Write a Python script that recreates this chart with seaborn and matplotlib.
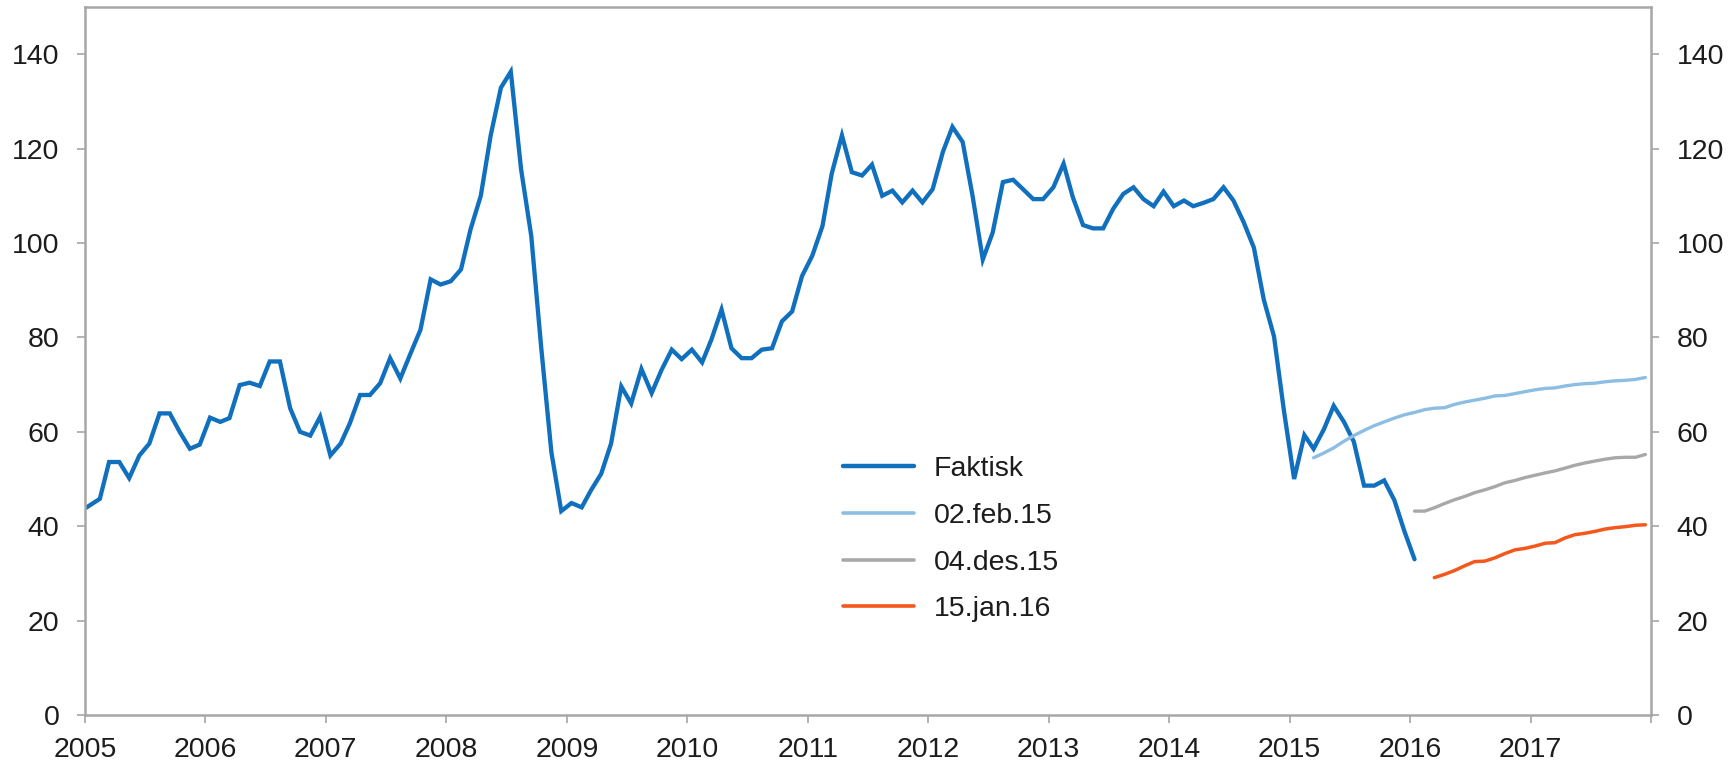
import matplotlib
matplotlib.use("Agg")
import matplotlib.pyplot as plt
import numpy as np
import pandas as pd
import seaborn as sns

# ---------------- data (monthly, USD per barrel) ----------------
faktisk_start = "2004-12"
faktisk = [43.0,
           44.4, 45.8, 53.6, 53.6, 50.2, 55.0, 57.5, 63.9, 63.9, 60.0, 56.4, 57.3,          # 2005
           63.0, 62.1, 62.9, 69.9, 70.4, 69.7, 74.9, 74.9, 65.0, 60.0, 59.2, 63.2,          # 2006
           55.0, 57.5, 61.8, 67.8, 67.8, 70.3, 75.6, 71.3, 76.6, 81.6, 92.3, 91.2,          # 2007
           91.9, 94.4, 102.9, 110.0, 122.8, 132.9, 136.3, 115.7, 101.5, 78.0, 55.7, 43.2,   # 2008
           44.9, 44.0, 47.6, 51.1, 57.5, 69.6, 66.0, 73.3, 68.2, 73.1, 77.4, 75.4,          # 2009
           77.4, 74.7, 79.5, 85.9, 77.7, 75.6, 75.6, 77.4, 77.7, 83.4, 85.5, 93.0,          # 2010
           97.3, 103.6, 114.7, 122.8, 115.0, 114.3, 116.6, 110.0, 111.1, 108.6, 111.1, 108.6,  # 2011
           111.4, 119.3, 124.6, 121.4, 110.0, 96.5, 102.2, 112.9, 113.4, 111.4, 109.3, 109.3,  # 2012
           111.8, 116.8, 109.7, 103.8, 103.1, 103.1, 107.2, 110.4, 111.8, 109.3, 107.8, 110.9,  # 2013
           107.8, 109.0, 107.8, 108.5, 109.3, 111.8, 109.0, 104.4, 99.0, 88.0, 80.2, 64.5,  # 2014
           50.0, 59.3, 56.4, 60.5, 65.5, 62.1, 57.9, 48.6, 48.6, 49.7, 45.5, 39.0,          # 2015
           33.0]                                                                            # 2016

feb15_start = "2015-03"
feb15 = [54.5, 55.5, 56.6, 58.0, 59.2, 60.3, 61.3, 62.1, 62.9, 63.6,
         64.1, 64.7, 65.0, 65.1, 65.8, 66.3, 66.7, 67.1, 67.6, 67.7,
         68.1, 68.5, 68.9, 69.2, 69.3, 69.7, 70.0, 70.2, 70.3, 70.6,
         70.8, 70.9, 71.1, 71.5]

des15_start = "2016-01"
des15 = [43.2, 43.2, 43.9, 44.8, 45.6, 46.3, 47.1, 47.7, 48.4, 49.2,
         49.7, 50.3, 50.8, 51.3, 51.7, 52.3, 52.9, 53.4, 53.8, 54.2,
         54.5, 54.6, 54.6, 55.2]

jan16_start = "2016-03"
jan16 = [29.1, 29.8, 30.6, 31.6, 32.5, 32.6, 33.3, 34.2, 35.0, 35.3,
         35.8, 36.4, 36.5, 37.5, 38.2, 38.5, 38.9, 39.4, 39.7, 39.9,
         40.2, 40.3]

series_labels = ["Faktisk", "02.feb.15", "04.des.15", "15.jan.16"]
year_ticks = list(range(2005, 2019))
year_labels = [str(y) for y in range(2005, 2018)] + [""]
y_ticks = [0, 20, 40, 60, 80, 100, 120, 140]


def monthly(start, values):
    dates = pd.period_range(start, periods=len(values), freq="M").to_timestamp() + pd.Timedelta(days=14)
    return pd.DataFrame({"date": dates, "value": values})


# ---------------- style ----------------
sns.set_theme(style="white")
plt.rcParams["font.family"] = ["Liberation Sans", "DejaVu Sans"]

W, H = 1736, 772
fig = plt.figure(figsize=(W / 100, H / 100), dpi=100)
left, right, top, bottom = 85, 1651, 7, 715
ax = fig.add_axes([left / W, 1 - bottom / H, (right - left) / W, (bottom - top) / H])

colors = ["#1170BE", "#8CBDE3", "#A8A8A8", "#F4581C"]
widths = [3.1, 2.4, 2.4, 2.5]
datasets = [monthly(faktisk_start, faktisk), monthly(feb15_start, feb15),
            monthly(des15_start, des15), monthly(jan16_start, jan16)]

for df, lab, c, lw in zip(datasets, series_labels, colors, widths):
    sns.lineplot(data=df, x="date", y="value", ax=ax, color=c, linewidth=lw,
                 label=lab, solid_joinstyle="miter")

ax.set_xlim(pd.Timestamp("2005-01-01"), pd.Timestamp("2018-01-01"))
ax.set_ylim(0, 150)
ax.set_xticks([pd.Timestamp(f"{y}-01-01") for y in year_ticks])
ax.set_xticklabels(year_labels)
ax.set_yticks(y_ticks)
ax.set_yticklabels([str(v) for v in y_ticks])
ax.set_xlabel("")
ax.set_ylabel("")

spine_c = "#A6A6A6"
for s in ax.spines.values():
    s.set_visible(True)
    s.set_color(spine_c)
    s.set_linewidth(1.8)

txt_c = "#1C1C1C"
ax.tick_params(axis="y", which="major", direction="out", length=5.5, width=1.2,
               color=spine_c, left=True, right=True, labelleft=True, labelright=True,
               labelsize=20.5, labelcolor=txt_c, pad=13)
ax.tick_params(axis="x", which="major", direction="out", length=5.5, width=1.2,
               color=spine_c, bottom=True, labelsize=20.5, labelcolor=txt_c, pad=10)

handles, labels = ax.get_legend_handles_labels()
leg = ax.legend(handles, labels, loc="upper left",
                bbox_to_anchor=(843 / W, 1 - 456 / H), bbox_transform=fig.transFigure,
                frameon=False, fontsize=20.5, handlelength=2.5, handletextpad=0.7,
                labelspacing=0.73, borderpad=0, borderaxespad=0)
for t in leg.get_texts():
    t.set_color(txt_c)
for lh, lw in zip(leg.get_lines(), [3.2, 2.6, 2.6, 2.6]):
    lh.set_linewidth(lw)

fig.savefig("out.png", dpi=100, facecolor="white")
